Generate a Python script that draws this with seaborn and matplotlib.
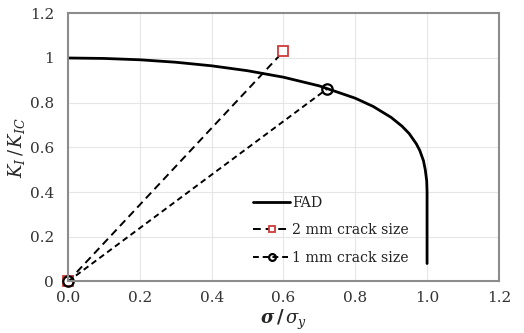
import matplotlib
matplotlib.use("Agg")
import matplotlib.pyplot as plt
import seaborn as sns
import pandas as pd

# FAD curve points
fad_x = [0.0, 0.1, 0.2, 0.3, 0.4, 0.5, 0.6, 0.7, 0.8, 0.85, 0.9, 0.93, 0.95,
         0.97, 0.98, 0.99, 0.995, 0.999, 1.0, 1.0]
fad_y = [1.0, 0.998, 0.992, 0.981, 0.965, 0.943, 0.914, 0.875, 0.820, 0.783,
         0.734, 0.695, 0.662, 0.616, 0.585, 0.54, 0.50, 0.45, 0.40, 0.08]

# Assessment lines
crack2_x = [0.0, 0.6]
crack2_y = [0.0, 1.03]
crack1_x = [0.0, 0.72]
crack1_y = [0.0, 0.86]

x_ticks = [0.0, 0.2, 0.4, 0.6, 0.8, 1.0, 1.2]
x_tick_labels = ["0.0", "0.2", "0.4", "0.6", "0.8", "1.0", "1.2"]
y_ticks = [0, 0.2, 0.4, 0.6, 0.8, 1.0, 1.2]
y_tick_labels = ["0", "0.2", "0.4", "0.6", "0.8", "1", "1.2"]

sns.set_theme(style="whitegrid")
plt.rcParams["font.family"] = ["DejaVu Serif"]
plt.rcParams["mathtext.fontset"] = "dejavuserif"

fig, ax = plt.subplots(figsize=(5.24, 3.33), dpi=100)
fig.subplots_adjust(left=0.13, right=0.952, top=0.96, bottom=0.155)

fad = pd.DataFrame({"x": fad_x, "y": fad_y})
sns.lineplot(data=fad, x="x", y="y", ax=ax, color="black", lw=2.0,
             sort=False, estimator=None, label="FAD")

c2 = pd.DataFrame({"x": crack2_x, "y": crack2_y})
sns.lineplot(data=c2, x="x", y="y", ax=ax, color="black", lw=1.4,
             linestyle=(0, (4, 2.5)), marker="s", markersize=7.5,
             markerfacecolor="white", markeredgecolor="#d03a3a",
             markeredgewidth=1.3, sort=False, estimator=None,
             label="2 mm crack size", clip_on=False)

c1 = pd.DataFrame({"x": crack1_x, "y": crack1_y})
sns.lineplot(data=c1, x="x", y="y", ax=ax, color="black", lw=1.4,
             linestyle=(0, (3, 2)), marker="o", markersize=7.5,
             markerfacecolor="none", markeredgecolor="black",
             markeredgewidth=1.6, sort=False, estimator=None,
             label="1 mm crack size", clip_on=False)

ax.set_xlim(0, 1.2)
ax.set_ylim(0, 1.2)
ax.set_xticks(x_ticks)
ax.set_xticklabels(x_tick_labels)
ax.set_yticks(y_ticks)
ax.set_yticklabels(y_tick_labels)
ax.tick_params(axis="x", labelsize=11, colors="#333333", length=0, pad=7)
ax.tick_params(axis="y", labelsize=11, colors="#333333", length=0, pad=10)
ax.grid(True, color="#e6e6e6", lw=0.8)
for s in ax.spines.values():
    s.set_color("#8c8c8c")
    s.set_linewidth(1.5)

ax.set_xlabel(r"$\boldsymbol{\sigma\,/\,\sigma_y}$", fontsize=13, labelpad=2)
ax.set_ylabel(r"$K_I\,/\,K_{IC}$", fontsize=13, labelpad=2)

leg = ax.legend(loc="lower left", bbox_to_anchor=(0.40, 0.015), frameon=False,
                fontsize=10.2, handlelength=2.6, handletextpad=0.15,
                labelspacing=0.95, markerscale=0.65)
for t in leg.get_texts():
    t.set_color("#222222")

fig.savefig("out.png", dpi=100)
